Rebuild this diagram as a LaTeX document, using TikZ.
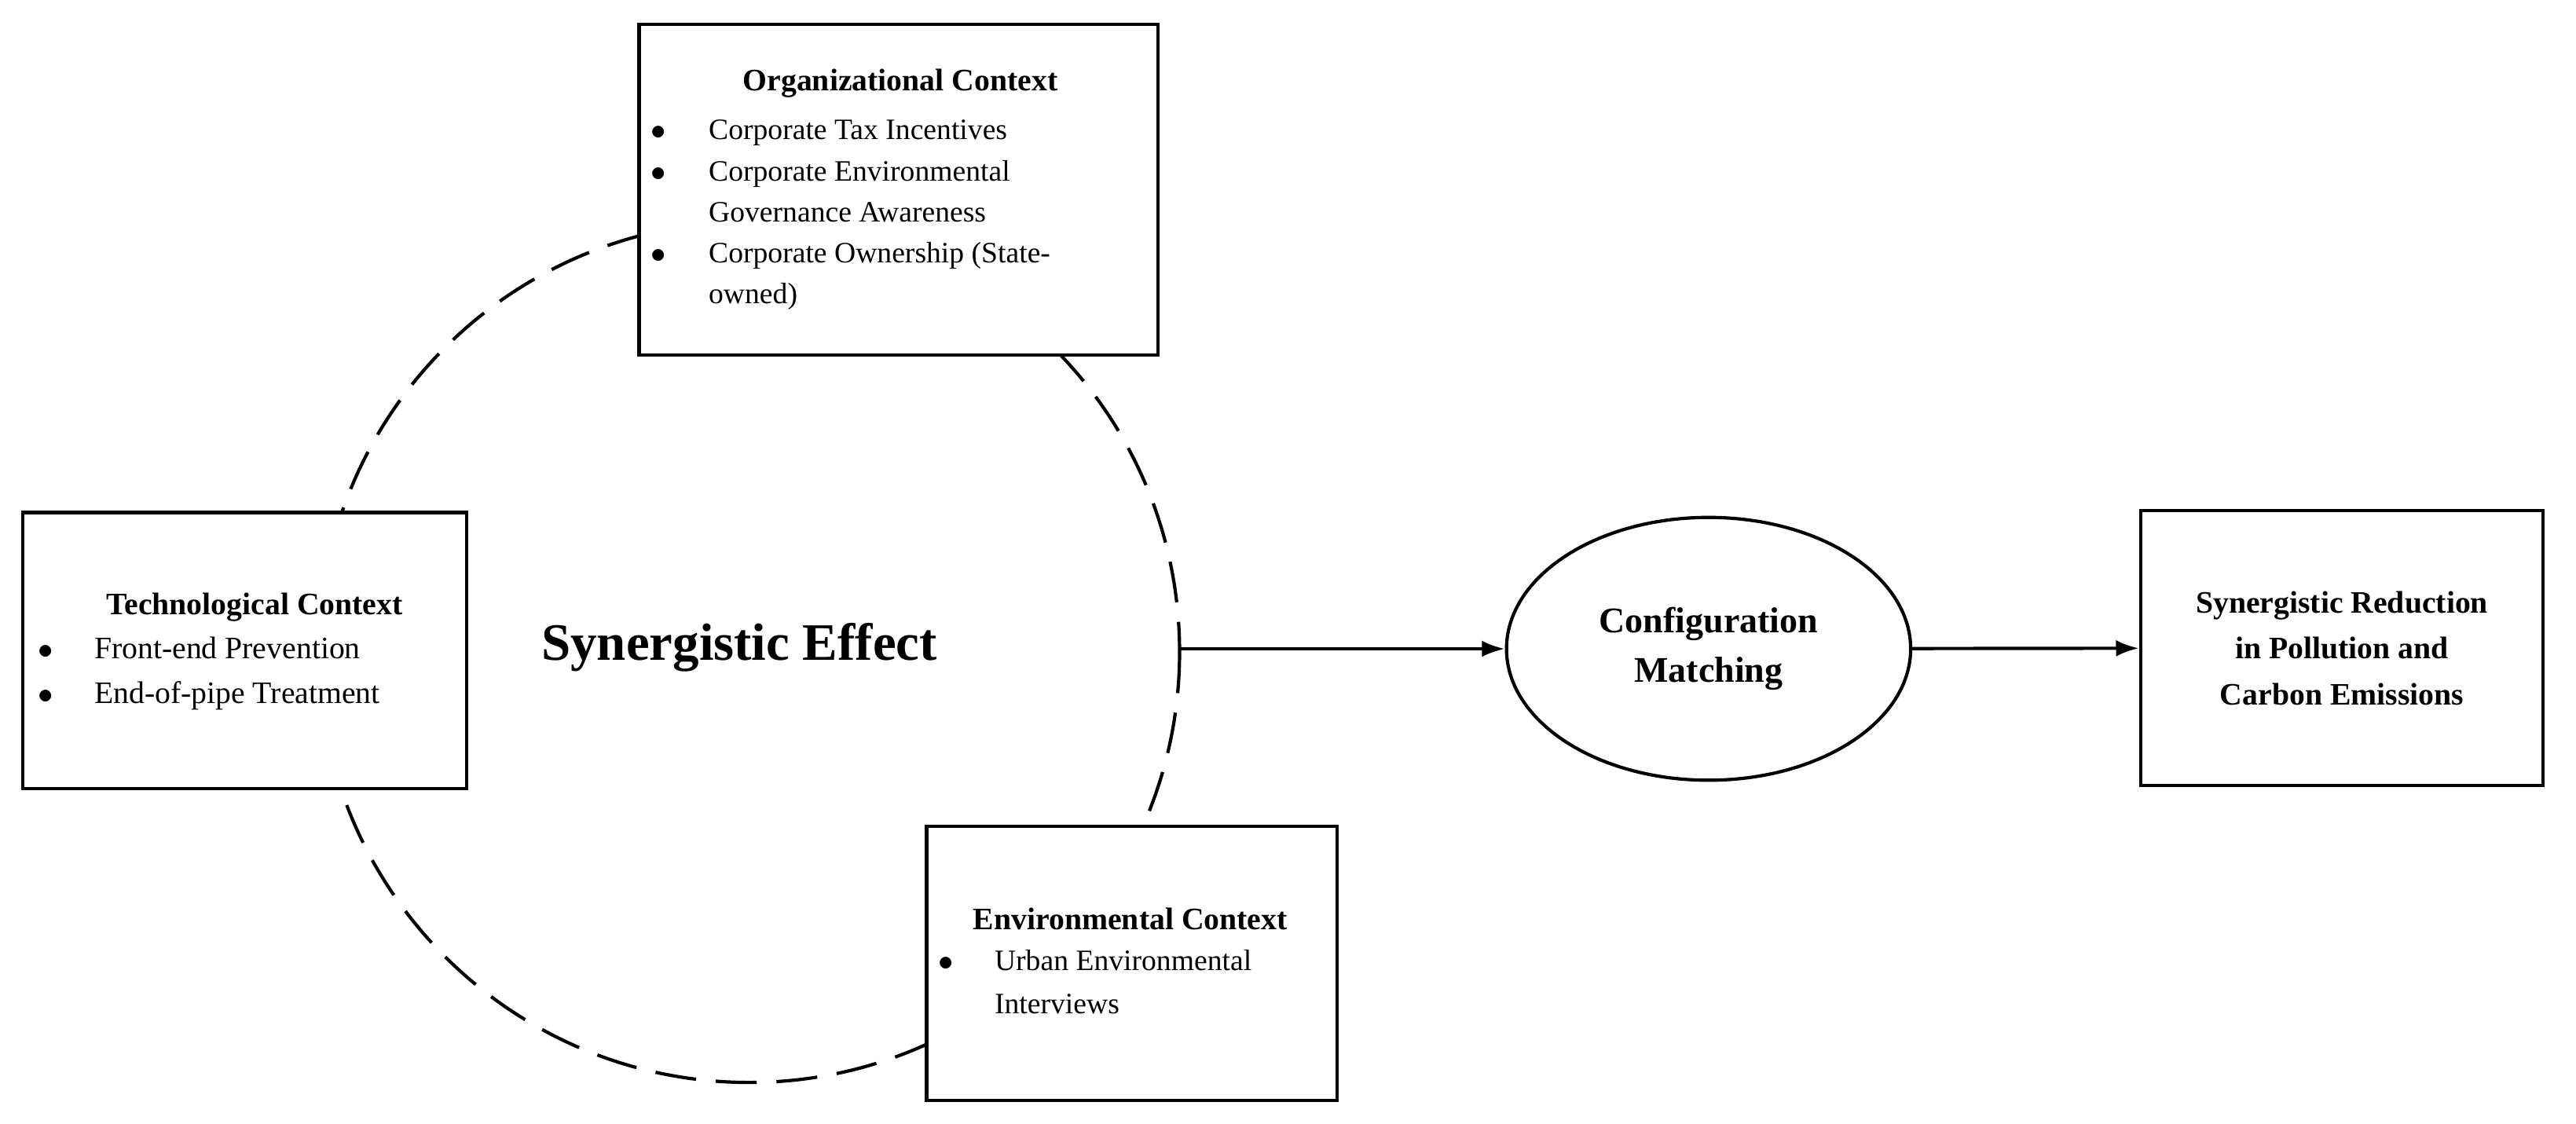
\documentclass[tikz,border=0pt]{standalone}
\usepackage{fontspec}
\setmainfont{Liberation Serif}
\usetikzlibrary{arrows.meta,shapes.geometric}
\begin{document}
\begin{tikzpicture}[x=0.5pt,y=-0.5pt,
  box/.style={draw,line width=1pt,fill=white},
  txt/.style={anchor=base west,inner sep=0,font=\fontsize{9}{11}\selectfont},
  ttl/.style={anchor=base,inner sep=0,font=\fontsize{9.5}{11}\selectfont\bfseries},
  bul/.style={anchor=base,inner sep=0,font=\fontsize{9}{11}\selectfont},
  arr/.style={line width=1pt,-{Latex[length=7pt,width=5pt]}}]
\useasboundingbox (0,0) rectangle (1568,684);
\draw[line width=1pt,dash pattern=on 12.5pt off 6pt] (456,397) circle (262);
% Organizational
\node[box,minimum width=158pt,minimum height=100.5pt,anchor=north west] (org) at (388,14) {};
\node[ttl] (orgt) at (548,55) {Organizational Context};
\node[bul] (ob1) at (401,85) {$\bullet$};
\node[bul] (ob2) at (401,110) {$\bullet$};
\node[bul] (ob3) at (401,160) {$\bullet$};
\node[txt] (o1) at (431,85) {Corporate Tax Incentives};
\node[txt] (o2) at (431,110) {Corporate Environmental};
\node[txt] (o3) at (431,135) {Governance Awareness};
\node[txt] (o4) at (431,160) {Corporate Ownership (State-};
\node[txt] (o5) at (431,185) {owned)};
% Technological
\node[box,minimum width=135pt,minimum height=84pt,anchor=north west] (tech) at (13,311) {};
\node[ttl] (techt) at (155,374) {Technological Context};
\node[bul] (tb1) at (28,401) {$\bullet$};
\node[bul] (tb2) at (28,428) {$\bullet$};
\node[txt,font=\fontsize{9.5}{11}\selectfont] (t1) at (57,401) {Front-end Prevention};
\node[txt,font=\fontsize{9.5}{11}\selectfont] (t2) at (57,428) {End-of-pipe Treatment};
% Environmental
\node[box,minimum width=125pt,minimum height=83.5pt,anchor=north west] (env) at (563,502) {};
\node[ttl] (envt) at (688,566) {Environmental Context};
\node[bul] (eb1) at (576,591) {$\bullet$};
\node[txt] (e1) at (605,591) {Urban Environmental};
\node[txt] (e2) at (605,617) {Interviews};
% center
\node[inner sep=0,font=\fontsize{16}{18}\selectfont\bfseries] (se) at (450,394) {Synergistic Effect};
\coordinate (cr) at (718,395);
\node[draw,line width=1pt,ellipse,inner sep=0,minimum width=123pt,minimum height=80pt,align=center,font=\fontsize{11}{15}\selectfont\bfseries] (cm) at (1040,395) {Configuration\\Matching};
\node[box,minimum width=122.5pt,minimum height=83.5pt,align=center,font=\fontsize{9.5}{14}\selectfont\bfseries] (out) at (1425.5,394.5) {Synergistic Reduction\\in Pollution and\\Carbon Emissions};
\draw[arr] (cr) -- (cm);
\draw[arr] (cm) -- (out);
\end{tikzpicture}
\end{document}
